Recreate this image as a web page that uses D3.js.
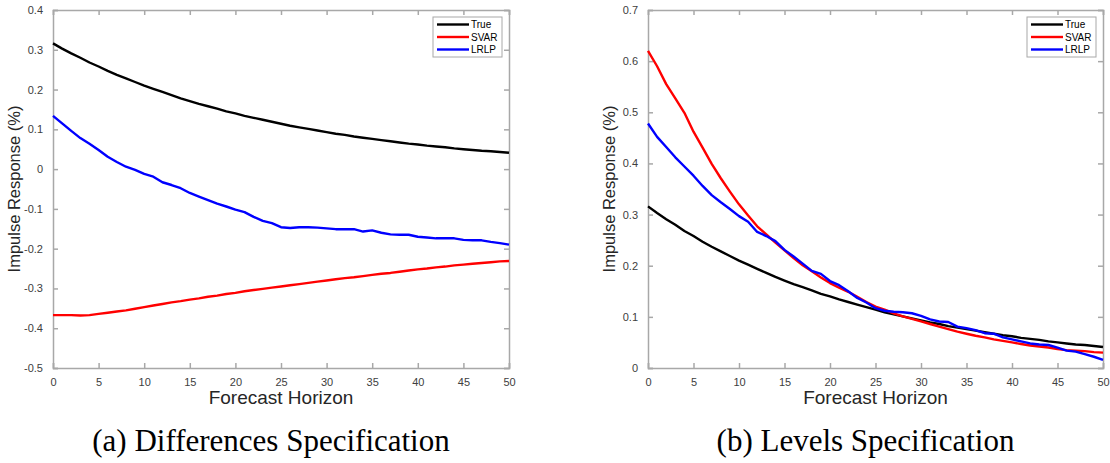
<!DOCTYPE html>
<html>
<head>
<meta charset="utf-8">
<script src="https://cdn.jsdelivr.net/npm/d3@7"></script>
<style>
  html, body { margin: 0; padding: 0; background: #fff; }
  svg { display: block; }
  .axis path, .axis line { stroke: #a8a8a8; stroke-width: 1.5; }
  .axis text { font-family: "Liberation Sans", Arial, sans-serif; font-size: 11px; fill: #404040; }
</style>
</head>
<body>
<div id="chart"></div>
<script>
// forecast horizon 0..50
var horizon = d3.range(0, 51);

// both panels share the true response
var trueIrf = [0.316, 0.303, 0.291, 0.280, 0.268, 0.258, 0.247, 0.237, 0.228, 0.219,
  0.210, 0.202, 0.194, 0.186, 0.178, 0.171, 0.164, 0.158, 0.152, 0.145,
  0.140, 0.134, 0.129, 0.124, 0.119, 0.114, 0.109, 0.105, 0.101, 0.097,
  0.093, 0.089, 0.086, 0.082, 0.079, 0.076, 0.073, 0.070, 0.067, 0.064,
  0.062, 0.059, 0.057, 0.055, 0.052, 0.050, 0.048, 0.046, 0.045, 0.043, 0.041];

// (a) differences specification
var diffSvar = [-0.367, -0.367, -0.367, -0.368, -0.367, -0.364, -0.361, -0.358, -0.355, -0.351,
  -0.347, -0.343, -0.339, -0.335, -0.332, -0.328, -0.325, -0.321, -0.318, -0.314,
  -0.311, -0.307, -0.304, -0.301, -0.298, -0.295, -0.292, -0.289, -0.286, -0.283,
  -0.280, -0.277, -0.274, -0.272, -0.269, -0.266, -0.263, -0.261, -0.258, -0.255,
  -0.252, -0.250, -0.247, -0.245, -0.242, -0.240, -0.238, -0.236, -0.234, -0.232, -0.231];
var diffLrlp = [0.134, 0.115, 0.096, 0.078, 0.064, 0.048, 0.031, 0.018, 0.006, -0.002,
  -0.012, -0.019, -0.033, -0.040, -0.048, -0.060, -0.069, -0.078, -0.087, -0.094,
  -0.102, -0.108, -0.120, -0.130, -0.136, -0.146, -0.148, -0.146, -0.146, -0.147,
  -0.149, -0.151, -0.151, -0.151, -0.157, -0.154, -0.160, -0.164, -0.165, -0.165,
  -0.170, -0.172, -0.174, -0.174, -0.174, -0.178, -0.179, -0.179, -0.183, -0.186, -0.190];

// (b) levels specification
var levSvar = [0.620, 0.590, 0.555, 0.527, 0.499, 0.462, 0.431, 0.399, 0.371, 0.345,
  0.320, 0.298, 0.277, 0.261, 0.245, 0.230, 0.215, 0.201, 0.189, 0.177,
  0.166, 0.157, 0.149, 0.139, 0.129, 0.120, 0.114, 0.107, 0.101, 0.096,
  0.091, 0.086, 0.081, 0.076, 0.071, 0.067, 0.063, 0.060, 0.056, 0.053,
  0.050, 0.047, 0.044, 0.042, 0.040, 0.037, 0.035, 0.034, 0.033, 0.031, 0.030];
var levLrlp = [0.478, 0.452, 0.432, 0.412, 0.394, 0.376, 0.356, 0.338, 0.324, 0.311,
  0.297, 0.286, 0.266, 0.258, 0.248, 0.231, 0.218, 0.204, 0.190, 0.184,
  0.170, 0.162, 0.150, 0.137, 0.128, 0.117, 0.112, 0.110, 0.109, 0.107,
  0.102, 0.095, 0.091, 0.090, 0.081, 0.078, 0.074, 0.068, 0.067, 0.060,
  0.056, 0.052, 0.048, 0.046, 0.045, 0.040, 0.034, 0.032, 0.027, 0.022, 0.016];

var seriesNames = ['True', 'SVAR', 'LRLP'];
var seriesColors = ['#000000', '#ff0000', '#0000ff'];
var xTicks = d3.range(0, 51, 5);
var yTicksA = d3.range(-5, 5).map(function(i) { return i / 10; });
var yTicksB = d3.range(0, 8).map(function(i) { return i / 10; });

var width = 1110, height = 463;

var svg = d3.select('#chart').append('svg')
  .attr('width', width)
  .attr('height', height);

var panels = [
  { left: 53, right: 509, domain: [-0.5, 0.4], ticks: yTicksA,
    series: [trueIrf, diffSvar, diffLrlp], caption: '(a) Differences Specification' },
  { left: 648, right: 1103, domain: [0, 0.7], ticks: yTicksB,
    series: [trueIrf, levSvar, levLrlp], caption: '(b) Levels Specification' }
];

var plotTop = 10, plotBottom = 368;
var fmt = function(d) { return String(+d.toFixed(1)); };

panels.forEach(function(p) {
  var x = d3.scaleLinear().domain([0, 50]).range([p.left, p.right]);
  var y = d3.scaleLinear().domain(p.domain).range([plotBottom, plotTop]);
  var g = svg.append('g');

  g.append('g').attr('class', 'axis')
    .attr('transform', 'translate(0,' + plotBottom + ')')
    .call(d3.axisBottom(x).tickValues(xTicks).tickSize(-5).tickPadding(10).tickFormat(fmt));
  g.append('g').attr('class', 'axis')
    .attr('transform', 'translate(0,' + plotTop + ')')
    .call(d3.axisTop(x).tickValues(xTicks).tickSize(-5).tickFormat(''));
  g.append('g').attr('class', 'axis')
    .attr('transform', 'translate(' + p.left + ',0)')
    .call(d3.axisLeft(y).tickValues(p.ticks).tickSize(-5).tickPadding(10).tickFormat(fmt));
  g.append('g').attr('class', 'axis')
    .attr('transform', 'translate(' + p.right + ',0)')
    .call(d3.axisRight(y).tickValues(p.ticks).tickSize(-5).tickFormat(''));

  var line = d3.line()
    .x(function(d, i) { return x(horizon[i]); })
    .y(function(d) { return y(d); });

  p.series.forEach(function(s, k) {
    g.append('path')
      .datum(s)
      .attr('fill', 'none')
      .attr('stroke', seriesColors[k])
      .attr('stroke-width', 2.4)
      .attr('stroke-linejoin', 'round')
      .attr('d', line);
  });

  // legend, top right
  var lx = p.right - 76, ly = 17;
  var leg = g.append('g').attr('transform', 'translate(' + lx + ',' + ly + ')');
  leg.append('rect')
    .attr('width', 69).attr('height', 40)
    .attr('fill', '#fff')
    .attr('stroke', '#a8a8a8')
    .attr('stroke-width', 1);
  seriesNames.forEach(function(name, k) {
    var yy = 7.5 + k * 12.5;
    leg.append('line')
      .attr('x1', 4).attr('x2', 36)
      .attr('y1', yy).attr('y2', yy)
      .attr('stroke', seriesColors[k])
      .attr('stroke-width', 2.4);
    leg.append('text')
      .attr('x', 38).attr('y', yy + 3.5)
      .style('font-family', '"Liberation Sans", Arial, sans-serif')
      .style('font-size', '10px')
      .style('fill', '#000')
      .text(name);
  });

  var cx = (p.left + p.right) / 2;
  g.append('text')
    .attr('x', cx).attr('y', 404)
    .attr('text-anchor', 'middle')
    .style('font-family', '"Liberation Sans", Arial, sans-serif')
    .style('font-size', '19px')
    .style('fill', '#262626')
    .text('Forecast Horizon');

  g.append('text')
    .attr('transform', 'translate(' + (p.left - 33) + ',' + ((plotTop + plotBottom) / 2) + ') rotate(-90)')
    .attr('text-anchor', 'middle')
    .style('font-family', '"Liberation Sans", Arial, sans-serif')
    .style('font-size', '16.5px')
    .style('fill', '#262626')
    .text('Impulse Response (%)');

  g.append('text')
    .attr('x', cx - 10).attr('y', 451)
    .attr('text-anchor', 'middle')
    .style('font-family', '"Liberation Serif", "Times New Roman", serif')
    .style('font-size', '31px')
    .style('fill', '#000')
    .text(p.caption);
});
</script>
</body>
</html>
